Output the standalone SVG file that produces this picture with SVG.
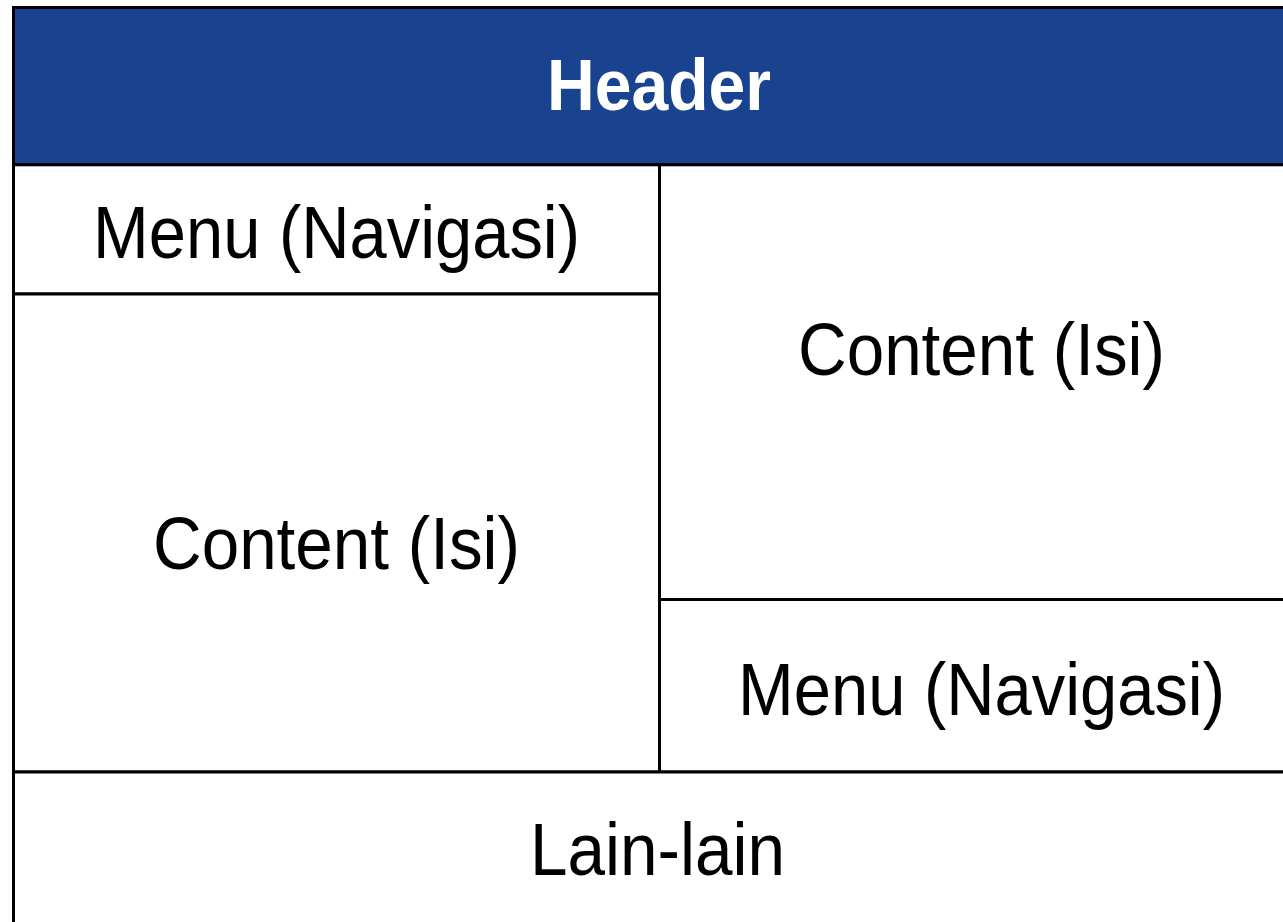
<svg xmlns="http://www.w3.org/2000/svg" width="1283" height="922" viewBox="0 0 1283 922">
  <style>
    .cell { fill: #FFFFFF; stroke: #000000; stroke-width: 3; }
    .head { fill: #1A438F; stroke: #000000; stroke-width: 3; }
    .label { font-family: "Liberation Sans", Arial, sans-serif; font-size: 75px; fill: #000000; text-anchor: middle; }
    .title { font-family: "Liberation Sans", Arial, sans-serif; font-size: 73px; font-weight: bold; fill: #FFFFFF; text-anchor: middle; }
  </style>
  <rect width="1283" height="922" fill="#FFFFFF"/>

  <!-- page layout: header, two columns, footer -->
  <g id="header">
    <rect class="head" x="13.5" y="7.5" width="1290" height="157.3"/>
    <text class="title" x="659" y="110" textLength="224" lengthAdjust="spacingAndGlyphs">Header</text>
  </g>

  <g id="menu-left">
    <rect class="cell" x="13.5" y="164.8" width="646" height="129.2"/>
    <text class="label" x="336.5" y="258" textLength="487" lengthAdjust="spacingAndGlyphs">Menu (Navigasi)</text>
  </g>

  <g id="content-left">
    <rect class="cell" x="13.5" y="294" width="646" height="478"/>
    <text class="label" x="336.5" y="569" textLength="367" lengthAdjust="spacingAndGlyphs">Content (Isi)</text>
  </g>

  <g id="content-right">
    <rect class="cell" x="659.5" y="164.8" width="644" height="434.7"/>
    <text class="label" x="981.5" y="375" textLength="367" lengthAdjust="spacingAndGlyphs">Content (Isi)</text>
  </g>

  <g id="menu-right">
    <rect class="cell" x="659.5" y="599.5" width="644" height="172.5"/>
    <text class="label" x="981.5" y="715" textLength="487" lengthAdjust="spacingAndGlyphs">Menu (Navigasi)</text>
  </g>

  <g id="footer">
    <rect class="cell" x="13.5" y="772" width="1290" height="200"/>
    <text class="label" x="657.5" y="875" textLength="255" lengthAdjust="spacingAndGlyphs">Lain-lain</text>
  </g>

  <!-- no connectors in this layout -->
  <g id="connectors"/>
</svg>
